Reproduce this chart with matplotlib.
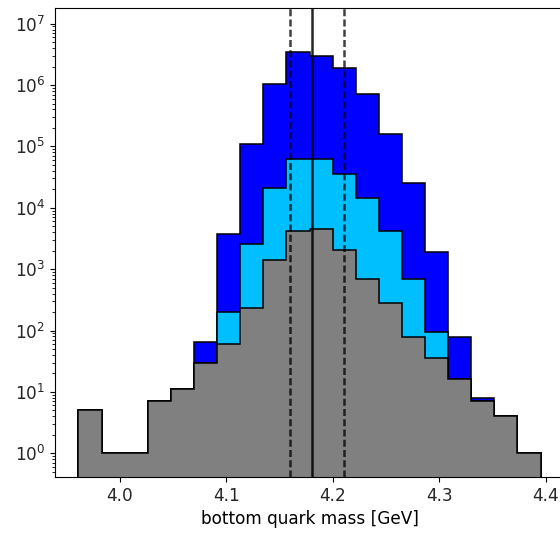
import matplotlib
matplotlib.use("Agg")
import matplotlib.pyplot as plt
import numpy as np

# bin edges of the histogram (20 bins)
bin_lo = 3.961
bin_hi = 4.395
n_bins = 20

# counts per bin
counts_all = [5, 1, 1, 7, 11, 64, 3770, 110000, 1.05e6, 3.4e6,
              2.93e6, 1.87e6, 7.1e5, 1.6e5, 2.5e4, 1870, 78, 8, 4, 1]
counts_mid = [5, 1, 1, 7, 11, 29, 199, 2560, 20900, 62900,
              62900, 35800, 14400, 4220, 687, 94, 16, 7, 4, 1]
counts_sel = [5, 1, 1, 7, 11, 29, 60, 237, 1420, 4220,
              4540, 2070, 687, 279, 78, 35, 16, 7, 4, 1]

central = 4.18
err_lo = 0.02
err_hi = 0.03

plt.rcParams["font.size"] = 12.2
plt.rcParams["text.color"] = "#262626"
plt.rcParams["xtick.labelcolor"] = "#262626"
plt.rcParams["ytick.labelcolor"] = "#262626"

edges = np.linspace(bin_lo, bin_hi, n_bins + 1)
centers = 0.5 * (edges[:-1] + edges[1:])

fig = plt.figure(figsize=(5.6, 5.34), dpi=100)
ax = fig.add_axes([55 / 560, 57 / 534, 509 / 560, 469 / 534])

for counts, color in ((counts_all, "blue"), (counts_mid, "deepskyblue"), (counts_sel, "gray")):
    ax.hist(centers, bins=edges, weights=counts, histtype="stepfilled",
            facecolor=color, edgecolor="black", linewidth=1.1, log=True)

ax.axvline(central, color="black", linewidth=1.8, alpha=0.85)
for x in (central - err_lo, central + err_hi):
    ax.axvline(x, color="black", linestyle=(0, (2.8, 1.3)), linewidth=1.8, alpha=0.75)

ax.set_xlim(3.939, 4.417)
ax.set_ylim(0.41, 1.8e7)
ax.set_xticks([4.0, 4.1, 4.2, 4.3, 4.4])
ax.set_xlabel("bottom quark mass [GeV]")

fig.savefig("out.png", dpi=100)
